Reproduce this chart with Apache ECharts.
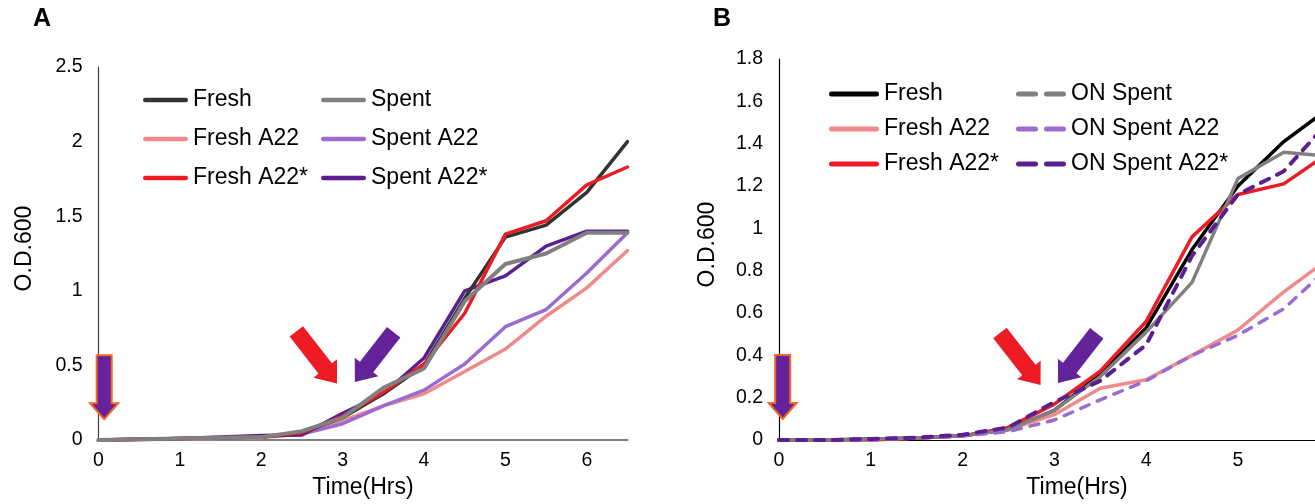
<!DOCTYPE html>
<html>
<head>
<meta charset="utf-8">
<script src="https://cdn.jsdelivr.net/npm/echarts@6/dist/echarts.min.js"></script>
<style>
html, body { margin: 0; padding: 0; background: #fff; }
#chart { width: 1315px; height: 504px; }
</style>
</head>
<body>
<div id="chart"></div>
<script>
// panel A: time points (hrs)
var timeA = [0, 0.5, 1, 1.5, 2, 2.5, 3, 3.5, 4, 4.5, 5, 5.5, 6, 6.5];
var freshA      = [0, 0.005, 0.01, 0.015, 0.02, 0.05, 0.15, 0.31, 0.5, 0.95, 1.36, 1.44, 1.66, 2.0];
var freshA22A   = [0, 0.003, 0.008, 0.012, 0.018, 0.04, 0.13, 0.23, 0.31, 0.46, 0.61, 0.83, 1.02, 1.27];
var freshA22sA  = [0, 0.005, 0.01, 0.015, 0.02, 0.05, 0.16, 0.32, 0.51, 0.85, 1.38, 1.47, 1.71, 1.83];
var spentA      = [0, 0.005, 0.01, 0.015, 0.02, 0.06, 0.15, 0.35, 0.48, 0.93, 1.18, 1.25, 1.39, 1.39];
var spentA22A   = [0, 0.004, 0.009, 0.013, 0.02, 0.04, 0.11, 0.23, 0.335, 0.51, 0.76, 0.875, 1.12, 1.39];
var spentA22sA  = [0, 0.005, 0.01, 0.02, 0.03, 0.035, 0.18, 0.31, 0.55, 1.0, 1.1, 1.3, 1.4, 1.4];

// panel B (the figure is cut off a little before 6 hrs)
var timeB = [0, 0.5, 1, 1.5, 2, 2.5, 3, 3.5, 4, 4.5, 5, 5.5, 6];
var freshB      = [0, 0, 0.005, 0.01, 0.02, 0.05, 0.14, 0.31, 0.53, 0.9, 1.2, 1.41, 1.57];
var freshA22B   = [0, 0, 0, 0.01, 0.02, 0.05, 0.12, 0.245, 0.285, 0.4, 0.52, 0.7, 0.86];
var freshA22sB  = [0, 0, 0, 0.01, 0.02, 0.06, 0.17, 0.325, 0.56, 0.96, 1.16, 1.21, 1.36];
var onSpentB    = [0, 0, 0.005, 0.01, 0.02, 0.05, 0.14, 0.3, 0.51, 0.745, 1.235, 1.36, 1.34];
var onSpentA22B = [0, 0, 0, 0.01, 0.02, 0.04, 0.095, 0.19, 0.28, 0.4, 0.495, 0.62, 0.82];
var onSpentA22sB= [0, 0, 0.005, 0.012, 0.025, 0.06, 0.18, 0.28, 0.45, 0.87, 1.16, 1.27, 1.51];

var FONT = 'Liberation Sans';
var cBlackA = '#333333', cBlack = '#000000', cGray = '#808080', cPink = '#f08a8a',
    cRed = '#ed1c24', cLilac = '#9b6bd0', cPurple = '#5b1f92';
var arrowPurple = '#65239b', arrowOrange = '#f26522';

// legend sample icons: one rounded bar, or two bars for the dashed entries
var iconSolid = 'path://M2.5,0H47.5A2.5,2.5,0,0,1,47.5,5H2.5A2.5,2.5,0,0,1,2.5,0Z';
var iconDash = 'path://M2.5,0H19.5A2.5,2.5,0,0,1,19.5,5H2.5A2.5,2.5,0,0,1,2.5,0Z' +
               'M30.5,0H47.5A2.5,2.5,0,0,1,47.5,5H30.5A2.5,2.5,0,0,1,30.5,0Z';

function pairs(t, v) {
    var out = [];
    for (var i = 0; i < v.length; i++) out.push([t[i], v[i]]);
    return out;
}

function line(name, idx, t, v, color, width, dash) {
    return {
        name: name,
        type: 'line',
        xAxisIndex: idx,
        yAxisIndex: idx,
        symbol: 'none',
        data: pairs(t, v),
        lineStyle: { color: color, width: width, type: dash || 'solid', cap: 'round', join: 'round' },
        itemStyle: { color: color }
    };
}

function yAxis(idx, max, interval, lineColor, nameGap) {
    return {
        type: 'value', gridIndex: idx, min: 0, max: max, interval: interval,
        name: 'O.D.600', nameLocation: 'middle', nameRotate: 90, nameGap: nameGap,
        nameTextStyle: { fontFamily: FONT, fontSize: 23, color: '#000', padding: [0, 0, 0, 10] },
        axisLine: { show: true, lineStyle: { color: lineColor, width: 1.2 } },
        axisTick: { show: false },
        splitLine: { show: false },
        axisLabel: { fontFamily: FONT, fontSize: 19.5, color: '#000', margin: 16 }
    };
}

function xAxis(idx, max, lineColor, lineWidth, shift) {
    return {
        type: 'value', gridIndex: idx, min: 0, max: max, interval: 1,
        name: 'Time(Hrs)', nameLocation: 'middle', nameGap: 32,
        nameTextStyle: { fontFamily: FONT, fontSize: 23, color: '#000', padding: [0, 0, 0, shift] },
        axisLine: { show: true, onZero: false, lineStyle: { color: lineColor, width: lineWidth } },
        axisTick: { show: false },
        splitLine: { show: false },
        axisLabel: { fontFamily: FONT, fontSize: 19.5, color: '#000', margin: 11, showMaxLabel: false }
    };
}

function legend(items, icon, left, top, width, gap) {
    return {
        orient: 'vertical', left: left, top: top, padding: 0,
        icon: icon, itemWidth: width, itemHeight: 5, itemGap: gap,
        selectedMode: false,
        textStyle: { fontFamily: FONT, fontSize: 23, color: '#000', lineHeight: 24 },
        data: items
    };
}

var option = {
    animation: false,
    backgroundColor: '#fff',
    title: [
        { text: 'A', left: 33, top: 7, padding: 0, textStyle: { fontFamily: FONT, fontSize: 25, fontWeight: 'bold', color: '#000' } },
        { text: 'B', left: 713, top: 7, padding: 0, textStyle: { fontFamily: FONT, fontSize: 25, fontWeight: 'bold', color: '#000' } }
    ],
    grid: [
        { left: 98.5, top: 67, width: 529, height: 376 },
        { left: 779, top: 59, width: 536, height: 384 }
    ],
    xAxis: [xAxis(0, 6.5, '#7f7f7f', 2, 0), xAxis(1, 5.84, '#000', 1.2, 60)],
    yAxis: [yAxis(0, 2.5, 0.5, '#404040', 62), yAxis(1, 1.8, 0.2, '#000', 60)],
    legend: [
        legend(['Fresh', 'Fresh A22', 'Fresh A22*'], iconSolid, 143, 88, 45, 15),
        legend(['Spent', 'Spent A22', 'Spent A22*'], iconSolid, 321, 88, 45, 15),
        legend(['Fresh ', 'Fresh A22 ', 'Fresh A22* '], iconSolid, 829, 82, 50, 11),
        legend(['ON Spent', 'ON Spent A22', 'ON Spent A22*'], iconDash, 1016, 82, 50, 11)
    ],
    series: [
        line('Fresh A22', 0, timeA, freshA22A, cPink, 3.5),
        line('Spent A22', 0, timeA, spentA22A, cLilac, 3.5),
        line('Spent A22*', 0, timeA, spentA22sA, cPurple, 3.5),
        line('Fresh', 0, timeA, freshA, cBlackA, 3.5),
        line('Fresh A22*', 0, timeA, freshA22sA, cRed, 3.5),
        line('Spent', 0, timeA, spentA, cGray, 4),

        // trailing space keeps panel B legend names apart from panel A
        line('Fresh ', 1, timeB, freshB, cBlack, 3.5),
        line('Fresh A22 ', 1, timeB, freshA22B, cPink, 3.5),
        line('Fresh A22* ', 1, timeB, freshA22sB, cRed, 3.5),
        line('ON Spent', 1, timeB, onSpentB, cGray, 3.5),
        line('ON Spent A22', 1, timeB, onSpentA22B, cLilac, 3.5, [9, 9]),
        line('ON Spent A22*', 1, timeB, onSpentA22sB, cPurple, 4, [9, 9])
    ]
};

var chart = echarts.init(document.getElementById('chart'), null, { renderer: 'canvas' });
chart.setOption(option);

// block arrows, tip given in data coordinates of each panel
var arrows = [
    { grid: 0, tip: [0.07, 0.14], angle: 0, len: 64, shaft: 15, head: 28, headLen: 16, fill: arrowPurple, stroke: arrowOrange },
    { grid: 0, tip: [2.93, 0.38], angle: 38, len: 66, shaft: 17, head: 30, headLen: 19, fill: cRed },
    { grid: 0, tip: [3.15, 0.39], angle: -38, len: 63, shaft: 17, head: 30, headLen: 19, fill: arrowPurple },
    { grid: 1, tip: [0.04, 0.10], angle: 0, len: 64, shaft: 15, head: 28, headLen: 16, fill: arrowPurple, stroke: arrowOrange },
    { grid: 1, tip: [2.85, 0.26], angle: 38, len: 66, shaft: 17, head: 30, headLen: 19, fill: cRed },
    { grid: 1, tip: [3.04, 0.27], angle: -38, len: 63, shaft: 17, head: 30, headLen: 19, fill: arrowPurple }
];

function arrowPoints(tip, deg, L, w, H, h) {
    var r = deg * Math.PI / 180;
    var d = [Math.sin(r), Math.cos(r)];
    var n = [-d[1], d[0]];
    function p(u, v) { return [tip[0] + u * d[0] + v * n[0], tip[1] + u * d[1] + v * n[1]]; }
    return [p(-L, -w / 2), p(-h, -w / 2), p(-h, -H / 2), p(0, 0), p(-h, H / 2), p(-h, w / 2), p(-L, w / 2)];
}

var graphics = arrows.map(function (a) {
    var tip = chart.convertToPixel({ gridIndex: a.grid }, a.tip);
    return {
        type: 'polygon',
        z: 100,
        shape: { points: arrowPoints(tip, a.angle, a.len, a.shaft, a.head, a.headLen) },
        style: { fill: a.fill, stroke: a.stroke || null, lineWidth: a.stroke ? 2 : 0 }
    };
});
chart.setOption({ graphic: graphics });
</script>
</body>
</html>
